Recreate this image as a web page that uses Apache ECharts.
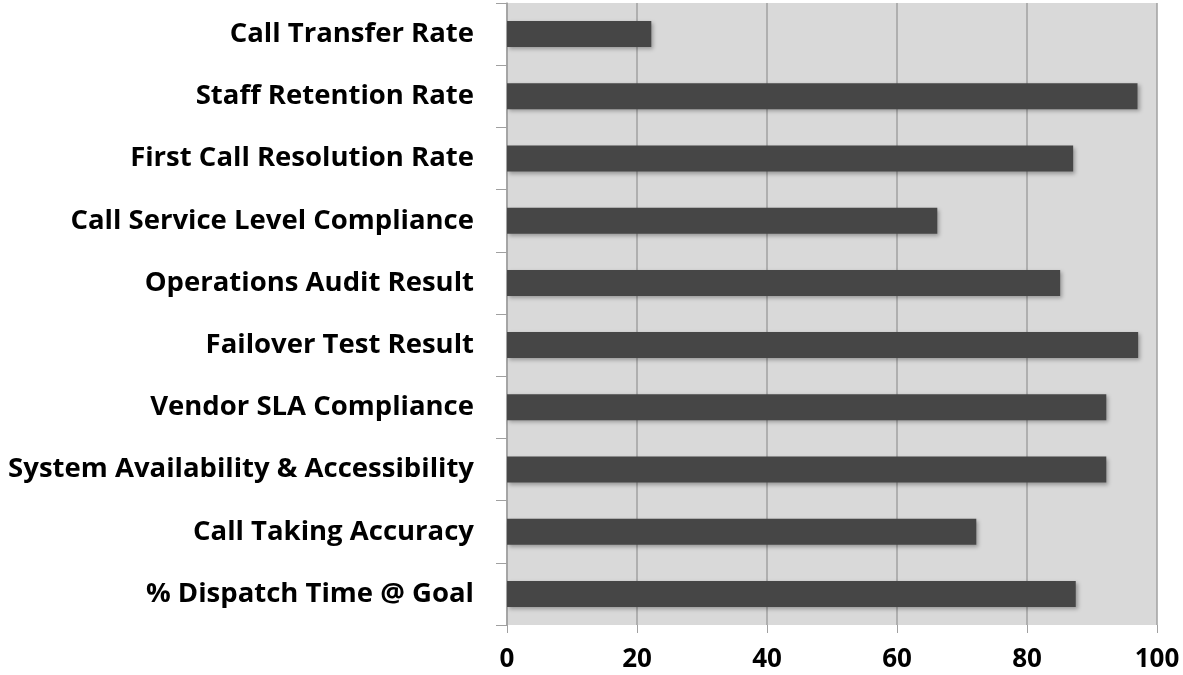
<!DOCTYPE html>
<html>
<head>
<meta charset="utf-8">
<style>
  html, body { margin: 0; padding: 0; background: #fff; }
  #chart { width: 1183px; height: 675px; }
</style>
<script src="https://cdn.jsdelivr.net/npm/echarts@6/dist/echarts.min.js"></script>
</head>
<body>
<div id="chart"></div>
<script>
// categories top to bottom
const categories = [
  'Call Transfer Rate',
  'Staff Retention Rate',
  'First Call Resolution Rate',
  'Call Service Level Compliance',
  'Operations Audit Result',
  'Failover Test Result',
  'Vendor SLA Compliance',
  'System Availability & Accessibility',
  'Call Taking Accuracy',
  '% Dispatch Time @ Goal'
];
const values = [22.2, 97, 87.1, 66.2, 85.1, 97.1, 92.2, 92.2, 72.2, 87.5];
const xTicks = [0, 20, 40, 60, 80, 100];

const chart = echarts.init(document.getElementById('chart'));

chart.setOption({
  animation: false,
  textStyle: { fontFamily: 'Open Sans' },
  grid: {
    left: 507, right: 26, top: 3, bottom: 50,
    show: true, backgroundColor: '#d9d9d9', borderWidth: 0
  },
  xAxis: {
    type: 'value',
    min: xTicks[0],
    max: xTicks[xTicks.length - 1],
    interval: 20,
    axisLine: { show: false },
    axisTick: { show: true, length: 8, lineStyle: { color: '#a0a0a0', width: 1 } },
    axisLabel: {
      margin: 22, color: '#000', fontSize: 26, fontWeight: 'bold'
    },
    splitLine: { show: true, lineStyle: { color: '#a0a0a0', width: 1.5 } }
  },
  yAxis: {
    type: 'category',
    data: categories,
    inverse: true,
    axisLine: { show: true, lineStyle: { color: '#a0a0a0', width: 1.5 } },
    axisTick: { show: true, length: 11, lineStyle: { color: '#a0a0a0', width: 1 } },
    axisLabel: {
      margin: 33, color: '#000', fontSize: 27.5, fontWeight: 'bold'
    }
  },
  series: [{
    type: 'bar',
    data: values,
    barWidth: 26,
    itemStyle: {
      color: '#464646',
      shadowColor: 'rgba(0,0,0,0.3)',
      shadowBlur: 4,
      shadowOffsetX: 2,
      shadowOffsetY: 2
    }
  }]
});
</script>
</body>
</html>
